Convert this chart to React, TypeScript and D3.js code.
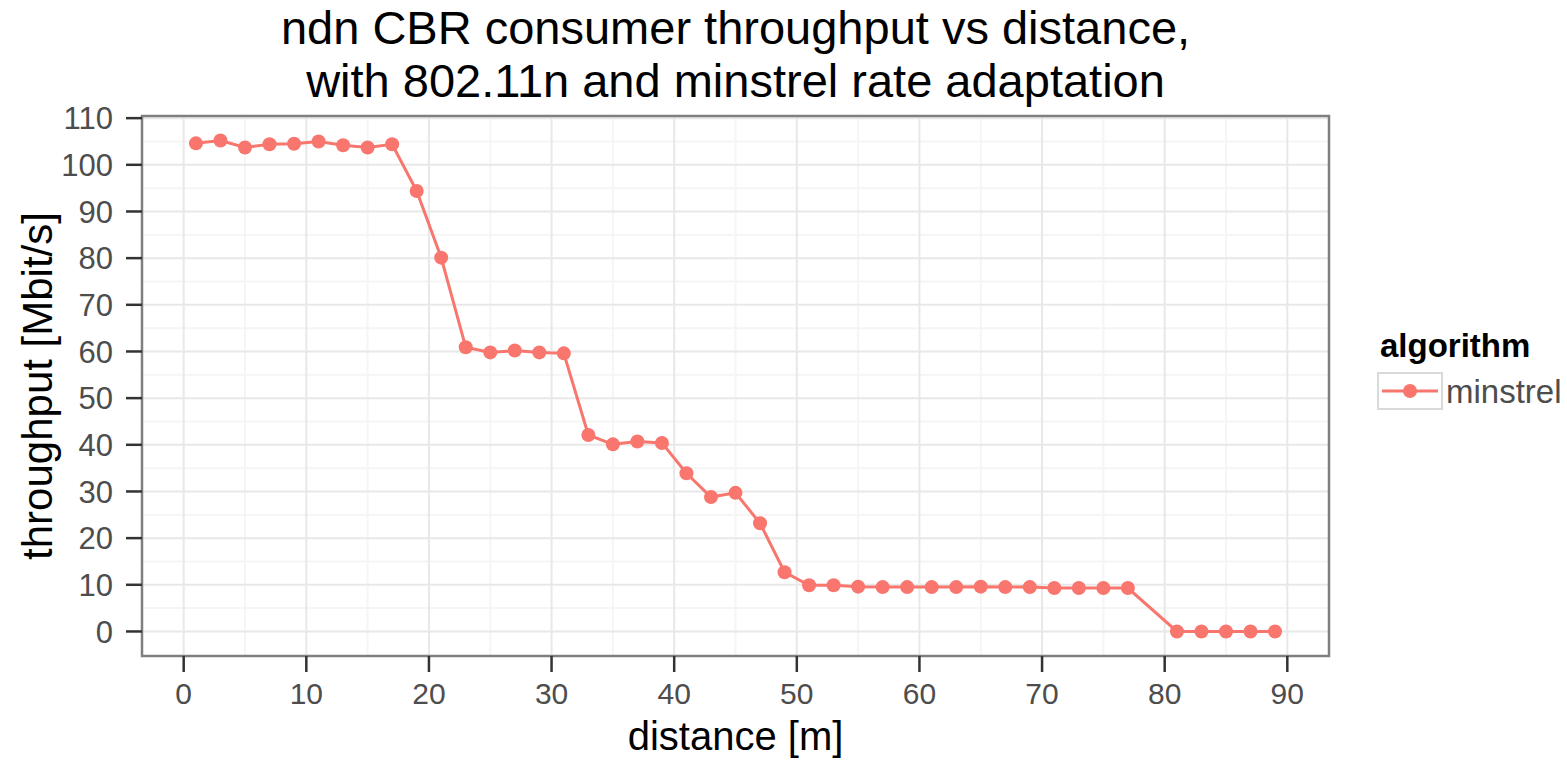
import React from 'react';
import * as d3 from 'd3';

const WIDTH = 1567;
const HEIGHT = 760;
const PANEL = { left: 142, right: 1329, top: 116, bottom: 656 };
const FONT = '"Liberation Sans", Arial, Helvetica, sans-serif';

// distance [m] of each measurement
const distance = [
  1, 3, 5, 7, 9, 11, 13, 15, 17, 19, 21, 23, 25, 27, 29, 31, 33, 35, 37, 39,
  41, 43, 45, 47, 49, 51, 53, 55, 57, 59, 61, 63, 65, 67, 69, 71, 73, 75, 77,
  81, 83, 85, 87, 89,
];
// throughput [Mbit/s], minstrel
const throughput = [
  104.6, 105.2, 103.7, 104.4, 104.5, 105.0, 104.2, 103.7, 104.4, 94.4, 80.1,
  60.9, 59.8, 60.2, 59.8, 59.6, 42.1, 40.1, 40.7, 40.4, 33.9, 28.8, 29.7, 23.2,
  12.7, 9.9, 9.9, 9.6, 9.5, 9.5, 9.5, 9.5, 9.6, 9.5, 9.5, 9.3, 9.3, 9.3, 9.3,
  0, 0, 0, 0, 0,
];

const xTicks = [0, 10, 20, 30, 40, 50, 60, 70, 80, 90];
const xMinor = [5, 15, 25, 35, 45, 55, 65, 75, 85];
const yTicks = [0, 10, 20, 30, 40, 50, 60, 70, 80, 90, 100, 110];
const yMinor = [5, 15, 25, 35, 45, 55, 65, 75, 85, 95, 105];

const titleLines = [
  'ndn CBR consumer throughput vs distance,',
  'with 802.11n and minstrel rate adaptation',
];
const seriesName = 'minstrel';
const legendTitle = 'algorithm';
const color = '#F8766D';

export default function App() {
  // ggplot-style 5% expansion of the data range
  const xExt = d3.extent(distance) as [number, number];
  const yExt = d3.extent(throughput) as [number, number];
  const xPad = (xExt[1] - xExt[0]) * 0.05;
  const yPad = (yExt[1] - yExt[0]) * 0.05;

  const x = d3
    .scaleLinear()
    .domain([xExt[0] - xPad, xExt[1] + xPad])
    .range([PANEL.left, PANEL.right]);
  const y = d3
    .scaleLinear()
    .domain([yExt[0] - yPad, yExt[1] + yPad])
    .range([PANEL.bottom, PANEL.top]);

  const points = distance.map((d, i) => ({ d, v: throughput[i] }));
  const line = d3
    .line<{ d: number; v: number }>()
    .x((p) => x(p.d))
    .y((p) => y(p.v));

  const cx = (PANEL.left + PANEL.right) / 2;
  const cy = (PANEL.top + PANEL.bottom) / 2;

  return (
    <svg
      width={WIDTH}
      height={HEIGHT}
      style={{ position: 'absolute', left: 0, top: 0, background: '#fff' }}
      fontFamily={FONT}
    >
      <rect width={WIDTH} height={HEIGHT} fill="#fff" />

      {/* title */}
      {titleLines.map((t, i) => (
        <text key={t} x={cx} y={44 + i * 53} textAnchor="middle" fontSize={47} fill="#000">
          {t}
        </text>
      ))}

      {/* grid */}
      <g>
        {xMinor.map((t) => (
          <line key={'xm' + t} x1={x(t)} x2={x(t)} y1={PANEL.top} y2={PANEL.bottom} stroke="#F5F5F5" strokeWidth={2} />
        ))}
        {yMinor.map((t) => (
          <line key={'ym' + t} x1={PANEL.left} x2={PANEL.right} y1={y(t)} y2={y(t)} stroke="#F5F5F5" strokeWidth={2} />
        ))}
        {xTicks.map((t) => (
          <line key={'xg' + t} x1={x(t)} x2={x(t)} y1={PANEL.top} y2={PANEL.bottom} stroke="#E8E8E8" strokeWidth={2} />
        ))}
        {yTicks.map((t) => (
          <line key={'yg' + t} x1={PANEL.left} x2={PANEL.right} y1={y(t)} y2={y(t)} stroke="#E8E8E8" strokeWidth={2} />
        ))}
      </g>

      {/* series */}
      <path d={line(points) ?? ''} fill="none" stroke={color} strokeWidth={3} />
      {points.map((p) => (
        <circle key={p.d} cx={x(p.d)} cy={y(p.v)} r={7} fill={color} />
      ))}

      {/* panel border */}
      <rect
        x={PANEL.left}
        y={PANEL.top}
        width={PANEL.right - PANEL.left}
        height={PANEL.bottom - PANEL.top}
        fill="none"
        stroke="#7F7F7F"
        strokeWidth={2.5}
      />

      {/* x axis */}
      {xTicks.map((t) => (
        <g key={'xt' + t}>
          <line x1={x(t)} x2={x(t)} y1={PANEL.bottom} y2={PANEL.bottom + 16} stroke="#333" strokeWidth={2.5} />
          <text x={x(t)} y={704} textAnchor="middle" fontSize={30} fill="#4D4D4D">
            {t}
          </text>
        </g>
      ))}
      <text x={cx} y={750} textAnchor="middle" fontSize={40} fill="#000">
        distance [m]
      </text>

      {/* y axis */}
      {yTicks.map((t) => (
        <g key={'yt' + t}>
          <line x1={PANEL.left - 16} x2={PANEL.left} y1={y(t)} y2={y(t)} stroke="#333" strokeWidth={2.5} />
          <text x={113} y={y(t)} dy="0.36em" textAnchor="end" fontSize={31} fill="#4D4D4D">
            {t}
          </text>
        </g>
      ))}
      <text
        transform={`translate(52, ${cy}) rotate(-90)`}
        textAnchor="middle"
        fontSize={42}
        fill="#000"
      >
        throughput [Mbit/s]
      </text>

      {/* legend */}
      <text x={1380} y={357} fontSize={33} fontWeight="bold" fill="#000">
        {legendTitle}
      </text>
      <rect x={1378} y={373} width={64} height={36} fill="#fff" stroke="#D9D9D9" strokeWidth={2} />
      <line x1={1382} x2={1438} y1={391} y2={391} stroke={color} strokeWidth={3} />
      <circle cx={1410} cy={391} r={7} fill={color} />
      <text x={1446} y={391} dy="0.36em" fontSize={33} fill="#4D4D4D">
        {seriesName}
      </text>
    </svg>
  );
}
